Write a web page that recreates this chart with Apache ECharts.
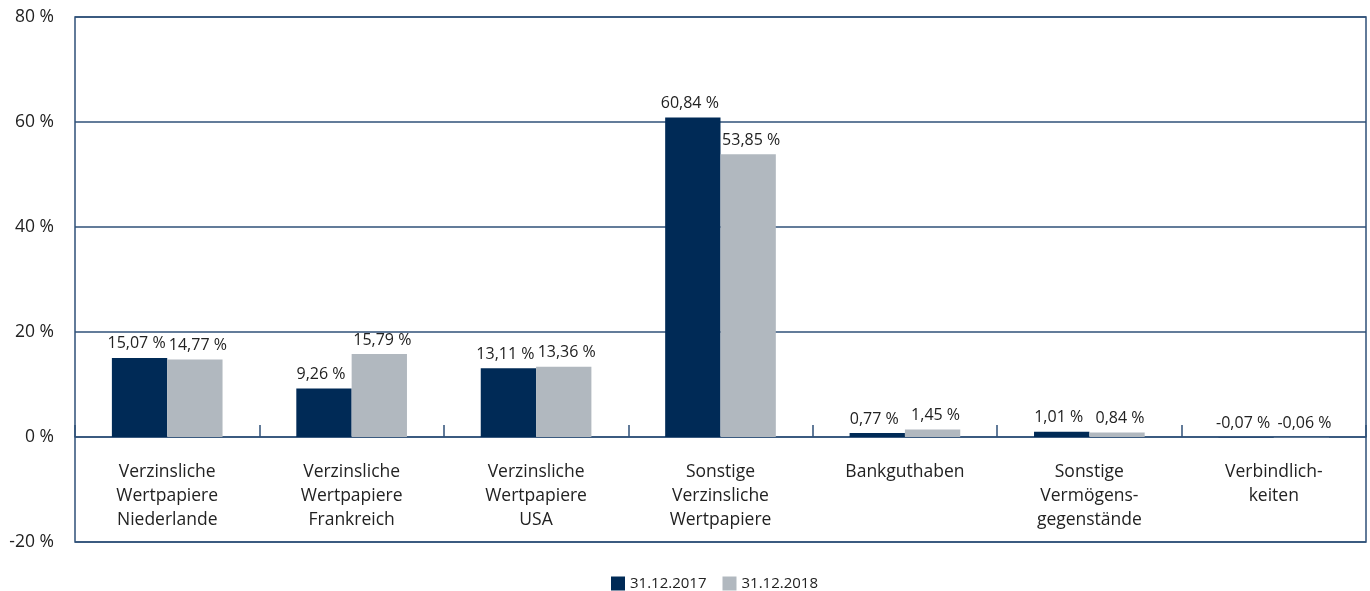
<!DOCTYPE html>
<html><head><meta charset="utf-8">
<script src="https://cdn.jsdelivr.net/npm/echarts@6/dist/echarts.min.js"></script>
<style>html,body{margin:0;padding:0;background:#fff}#c{width:1370px;height:591px}</style>
</head><body><div id="c"></div>
<script>
const categories = ["Verzinsliche\nWertpapiere\nNiederlande","Verzinsliche\nWertpapiere\nFrankreich","Verzinsliche\nWertpapiere\nUSA","Sonstige\nVerzinsliche\nWertpapiere","Bankguthaben","Sonstige\nVermögens-\ngegenstände","Verbindlich-\nkeiten"];
const seriesNames = ["31.12.2017","31.12.2018"];
const values2017 = [15.07, 9.26, 13.11, 60.84, 0.77, 1.01, -0.07];
const values2018 = [14.77, 15.79, 13.36, 53.85, 1.45, 0.84, -0.06];
const yTicks = [-20, 0, 20, 40, 60, 80];

const font = "Open Sans";
const fs = 17.5;
const lineColor = "#2f5078";
const fmt = v => v.toFixed(2).replace('.', ',') + ' %';
const chart = echarts.init(document.getElementById('c'));
const mkSeries = (name, data, color, dx) => ({
  name, type: 'bar', data, barWidth: '30%', barGap: '0%',
  itemStyle: { color },
  label: { show: true, position: 'top', distance: 6, offset: [dx, 0], color: '#222', fontFamily: font, fontSize: 16,
    formatter: p => fmt(p.value) }
});
chart.setOption({
  animation: false,
  textStyle: { fontFamily: font },
  grid: { left: 75, right: 4, top: 17, bottom: 49, outerBoundsMode: 'none', containLabel: false, show: true, borderColor: lineColor, borderWidth: 1.5, backgroundColor: 'transparent' },
  legend: { top: 571, left: 606, itemWidth: 14, itemHeight: 14, itemGap: 16, icon: 'rect',
    textStyle: { fontFamily: font, fontSize: 15, color: '#222' }, data: seriesNames },
  xAxis: { type: 'category', data: categories,
    axisLine: { onZero: true, lineStyle: { color: lineColor, width: 1.5 } },
    axisTick: { show: true, inside: true, length: 12, lineStyle: { color: lineColor, width: 1.5 } },
    axisLabel: { margin: -82, color: '#222', fontFamily: font, fontSize: fs, lineHeight: 24 } },
  yAxis: { type: 'value', min: yTicks[0], max: yTicks[yTicks.length-1], interval: 20,
    axisLine: { show: false }, axisTick: { show: false },
    splitLine: { lineStyle: { color: lineColor, width: 1.5 } },
    axisLabel: { margin: 21, color: '#222', fontFamily: font, fontSize: fs, formatter: v => v + ' %' } },
  series: [ mkSeries(seriesNames[0], values2017, '#002a56', -3), mkSeries(seriesNames[1], values2018, '#b1b8bf', 3) ]
});
</script></body></html>
